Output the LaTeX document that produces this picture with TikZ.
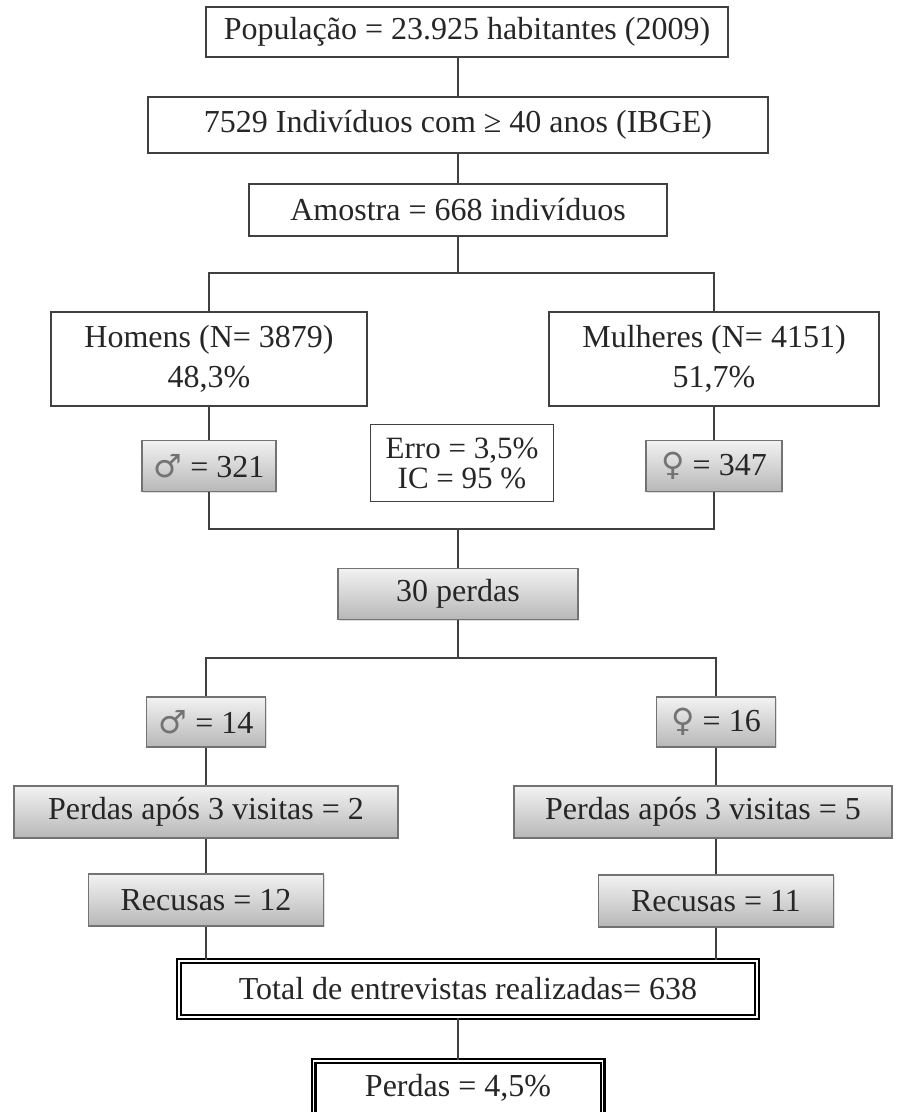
\documentclass[tikz,border=0pt]{standalone}
\usepackage{fontspec}
\setmainfont{Liberation Serif}
\newfontfamily\symfont{DejaVu Sans}
\usetikzlibrary{shadows, calc}

\newcommand{\symmale}{{\symfont\color{black!55}♂}}
\newcommand{\symfemale}{{\symfont\color{black!55}♀}}

\begin{document}
\begin{tikzpicture}[x=0.5pt, y=-0.5pt, font=\fontsize{16}{19}\selectfont,
  box/.style={rectangle, draw=black!75, line width=0.7pt, fill=white, text=black!85, inner sep=2pt},
  graybox/.style={box, draw=black!55, top color=black!5, bottom color=black!28,
                  drop shadow={shadow xshift=0.6pt, shadow yshift=-0.6pt, opacity=0.25}},
  finalbox/.style={box, draw=black, line width=1.2pt, double=white, double distance=0.6pt},
  link/.style={draw=black!75, line width=0.6pt}]
  \useasboundingbox (0,0) rectangle (903,1112);

  % upper part
  \node[box, minimum width=261pt, minimum height=25pt] (pop) at (467,32) {População = 23.925 habitantes (2009)};
  \node[box, minimum width=310pt, minimum height=28pt] (ind) at (458,125) {7529 Indivíduos com ≥ 40 anos (IBGE)};
  \node[box, minimum width=209pt, minimum height=26pt] (amo) at (458,210) {Amostra = 668 indivíduos};

  \node[box, minimum width=158pt, minimum height=47pt, align=center, font=\fontsize{16}{20}\selectfont] (hom) at (209,359) {Homens (N= 3879)\\48,3\%};
  \node[box, minimum width=165pt, minimum height=47pt, align=center, font=\fontsize{16}{20}\selectfont] (mul) at (714,359) {Mulheres (N= 4151)\\51,7\%};

  \node[graybox, minimum width=67pt, minimum height=25.5pt] (m321) at (209,466) {\symmale{} = 321};
  \node[graybox, minimum width=68pt, minimum height=25.5pt] (f347) at (714,466) {\symfemale{} = 347};
  \node[box, minimum width=91.5pt, minimum height=38.5pt, align=center, font=\fontsize{15.5}{15}\selectfont] (erro) at (462,463) {Erro = 3,5\%\\IC = 95 \%};

  \node[graybox, minimum width=120pt, minimum height=25.5pt] (p30) at (458,594) {30 perdas};

  % lower part
  \node[graybox, minimum width=59.5pt, minimum height=25pt] (m14) at (206,722) {\symmale{} = 14};
  \node[graybox, minimum width=59.5pt, minimum height=25pt] (f16) at (716,722) {\symfemale{} = 16};

  \node[graybox, minimum width=192pt, minimum height=26pt] (pv2) at (206,812) {Perdas após 3 visitas = 2};
  \node[graybox, minimum width=189pt, minimum height=26pt] (pv5) at (703,812) {Perdas após 3 visitas = 5};

  \node[graybox, minimum width=117.5pt, minimum height=26pt] (rec12) at (206,900) {Recusas = 12};
  \node[graybox, minimum width=117.5pt, minimum height=26pt] (rec11) at (716,901) {Recusas = 11};

  \node[finalbox, minimum width=289pt, minimum height=28pt] (total) at (468,989) {Total de entrevistas realizadas= 638};
  \node[finalbox, minimum width=144.5pt, minimum height=27pt] (perdas) at (458,1088) {Perdas = 4,5\%};

  \coordinate (split1) at (458,273);
  \coordinate (join1) at (458,529);
  \coordinate (split2) at (458,658);

  % connectors
  \draw[link] (pop.south -| ind.north) -- (ind.north);
  \draw[link] (ind) -- (amo);
  \draw[link] (amo) -- (split1);
  \draw[link] (hom.north) |- (split1) -| (mul.north);
  \draw[link] (hom) -- (m321);
  \draw[link] (mul) -- (f347);
  \draw[link] (m321.south) |- (join1) -| (f347.south);
  \draw[link] (join1) -- (p30);
  \draw[link] (p30) -- (split2);
  \draw[link] (m14.north) |- (split2) -| (f16.north);
  \draw[link] (m14) -- (pv2);
  \draw[link] (pv2) -- (rec12);
  \draw[link] (rec12.south) -- (rec12.south |- total.north);
  \draw[link] (f16.south) -- (f16.south |- pv5.north);
  \draw[link] (pv5.south -| rec11.north) -- (rec11.north);
  \draw[link] (rec11.south) -- (rec11.south |- total.north);
  \draw[link] (total.south -| perdas.north) -- (perdas.north);
\end{tikzpicture}
\end{document}
